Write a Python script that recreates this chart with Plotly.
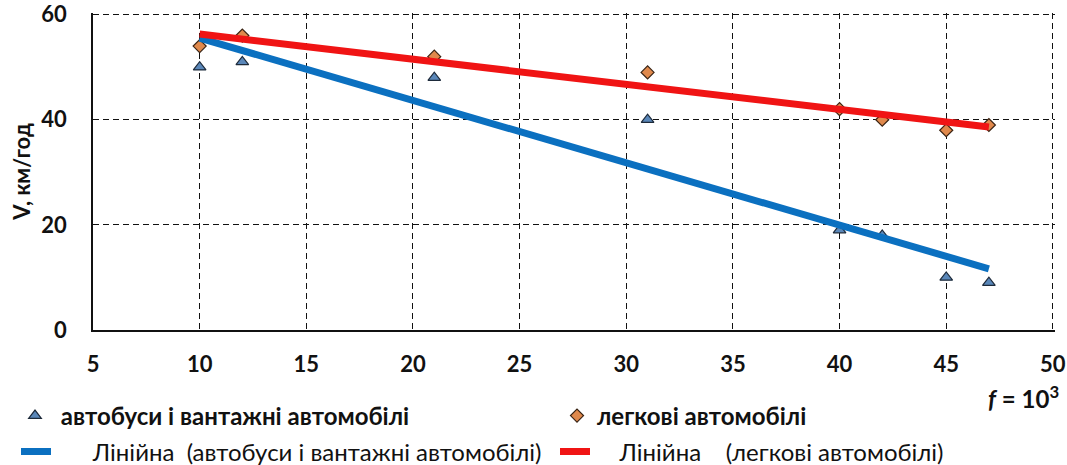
import numpy as np
import plotly.graph_objects as go

# Data
f_trucks = [10, 12, 21, 31, 40, 42, 45, 47]
v_trucks = [50, 51, 48, 40, 19, 18, 10, 9]
f_cars = [10, 12, 21, 31, 40, 42, 45, 47]
v_cars = [54, 56, 52, 49, 42, 40, 38, 39]

name_trucks = "автобуси і вантажні автомобілі"
name_cars = "легкові автомобілі"
name_fit_trucks = "Лінійна\u00a0\u00a0(автобуси і вантажні автомобілі)"
name_fit_cars = "Лінійна\u00a0\u00a0\u00a0\u00a0(легкові автомобілі)"

x_ticks = [5, 10, 15, 20, 25, 30, 35, 40, 45, 50]
y_ticks = [0, 20, 40, 60]

# Linear trend lines (least squares), like the spreadsheet "Linear" trendline
kt, bt = np.polyfit(f_trucks, v_trucks, 1)
kc, bc = np.polyfit(f_cars, v_cars, 1)
fit_x_t = [min(f_trucks), max(f_trucks)]
fit_x_c = [min(f_cars), max(f_cars)]

FONT = "Lato, 'Open Sans', sans-serif"
NB = "\u00a0"

fig = go.Figure()
fig.add_trace(go.Scatter(
    x=f_trucks, y=v_trucks, mode="markers", name="<b>" + NB + name_trucks + "</b>",
    legend="legend",
    marker=dict(symbol="triangle-up", size=11, color="#5a87b9",
                line=dict(color="#1d2a3a", width=1.2)),
))
fig.add_trace(go.Scatter(
    x=f_cars, y=v_cars, mode="markers", name="<b>" + name_cars + "</b>",
    legend="legend2",
    marker=dict(symbol="diamond", size=10, color="#e0894c",
                line=dict(color="#3a2414", width=1.2)),
))
fig.add_trace(go.Scatter(
    x=fit_x_t, y=[kt * x + bt for x in fit_x_t], mode="lines",
    name=NB * 6 + name_fit_trucks, legend="legend3",
    line=dict(color="#0b70c0", width=7),
))
fig.add_trace(go.Scatter(
    x=fit_x_c, y=[kc * x + bc for x in fit_x_c], mode="lines",
    name=NB * 4 + name_fit_cars, legend="legend4",
    line=dict(color="#f01414", width=7),
))

fig.update_xaxes(
    range=[5, 50.1], tickvals=x_ticks, ticktext=[str(v) for v in x_ticks],
    showgrid=True, gridcolor="#111", gridwidth=1.2, griddash="6px,4px",
    showline=True, linecolor="#111", linewidth=1.5,
    zeroline=False, ticks="", ticklabelstandoff=14, ticklabeloverflow="allow",
    tickfont=dict(family=FONT, size=22, color="#111", weight="bold"),
)
fig.update_yaxes(
    range=[0, 60.3], tickvals=y_ticks, ticktext=[str(v) for v in y_ticks],
    showgrid=True, gridcolor="#111", gridwidth=1.2, griddash="6px,4px",
    showline=True, linecolor="#111", linewidth=1.5,
    zeroline=False, ticks="", ticklabelstandoff=20, ticklabeloverflow="allow",
    tickfont=dict(family=FONT, size=22, color="#111", weight="bold"),
    title=dict(text="<b>V, км/год</b>", standoff=5,
               font=dict(family=FONT, size=22, color="#111")),
)

fig.add_annotation(
    text="<b><i>f</i> = 10<sup>3</sup></b>", xref="paper", yref="paper",
    x=1.006, y=-0.2116, xanchor="right", yanchor="middle", showarrow=False,
    font=dict(family=FONT, size=24, color="#111"),
)

W, H = 1067, 465
leg_common = dict(
    orientation="h", xref="container", yref="container",
    xanchor="left", yanchor="middle",
    font=dict(family=FONT, size=24, color="#111"),
    bgcolor="rgba(0,0,0,0)", borderwidth=0, itemwidth=30,
)
fig.update_layout(
    width=W, height=H,
    margin=dict(l=93, r=11.9, t=13.4, b=135, autoexpand=False),
    plot_bgcolor="white", paper_bgcolor="white",
    font=dict(family=FONT, color="#111"),
    showlegend=True,
    legend=dict(x=15 / W, y=1 - 416 / H, **leg_common),
    legend2=dict(x=557 / W, y=1 - 416 / H, **leg_common),
    legend3=dict(x=16 / W, y=1 - 452 / H, **leg_common),
    legend4=dict(x=555 / W, y=1 - 452 / H, **leg_common),
)

fig.write_html("out.html", config={"displayModeBar": False},
               post_script="document.body.style.margin='0px';")
